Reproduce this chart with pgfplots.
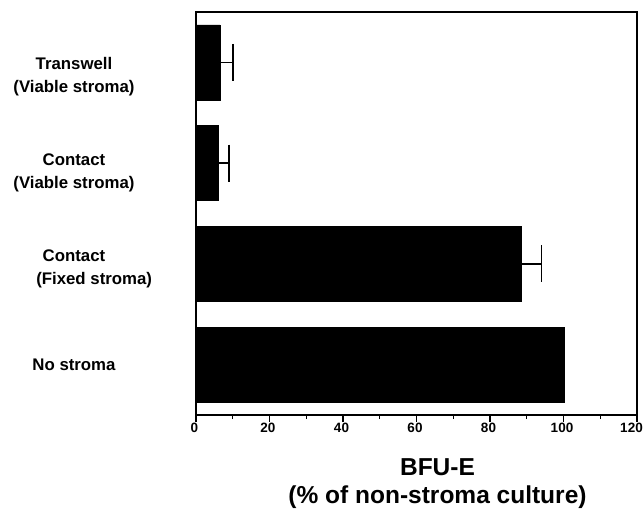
\documentclass[border=0pt]{standalone}
\usepackage{fontspec}
\setmainfont{Liberation Sans}
\usepackage{pgfplots}
\pgfplotsset{compat=1.18}
\begin{document}
\begin{tikzpicture}[x=1pt,y=1pt]
\useasboundingbox (0,0) rectangle (644,508);
\begin{axis}[
  at={(196pt,93pt)}, anchor=south west,
  scale only axis, width=441pt, height=403pt,
  xmin=0, xmax=120, ymin=-0.5, ymax=3.5,
  axis line style={line width=1.3pt},
  xtick={0,20,...,120}, minor xtick={10,30,...,110},
  xticklabels={0,20,40,60,80,100,\hspace*{-8pt}120},
  xtick pos=bottom, tick align=outside,
  major tick length=7pt, minor tick length=4pt,
  every tick/.style={black, line width=1.2pt},
  xticklabel style={font=\bfseries\fontsize{13.5}{14}\selectfont, inner sep=1pt, xshift=-1.5pt},
  ytick={0,0.95,1.9,2.86},
  yticklabels={No stroma, {Contact\\\hspace*{2.4em}(Fixed stroma)}, {Contact\\(Viable stroma)}, {Transwell\\(Viable stroma)}},
  yticklabel style={font=\bfseries\fontsize{16.8}{23}\selectfont, align=center, anchor=center, xshift=-115pt},
  ytick style={draw=none},
  xlabel={BFU-E\\(\% of non-stroma culture)},
  xlabel style={font=\bfseries\fontsize{24.5}{28}\selectfont, align=center, xshift=21pt, yshift=-21pt},
]
\addplot[xbar, bar shift=0pt, bar width=75pt, fill=black, draw=black,
  error bars/.cd, x dir=plus, x explicit,
  error bar style={line width=1.3pt, black},
  error mark options={black, rotate=90, mark size=18.5pt, line width=1.3pt}]
  coordinates {(6.5,3) +- (3.6,0) (6.0,2) +- (3.0,0) (88.4,1) +- (5.6,0)};
\addplot[xbar, bar shift=0pt, bar width=75pt, fill=black, draw=black]
  coordinates {(100.1,0)};
\end{axis}
\end{tikzpicture}
\end{document}
